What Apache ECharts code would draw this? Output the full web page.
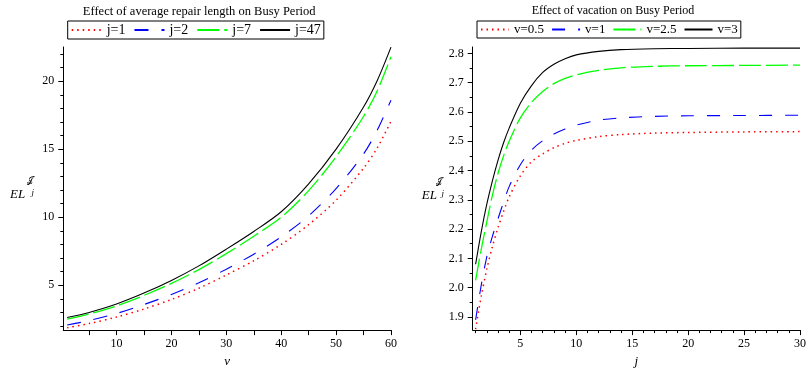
<!DOCTYPE html>
<html><head><meta charset="utf-8">
<script src="https://cdn.jsdelivr.net/npm/echarts@6/dist/echarts.min.js"></script>
<style>html,body{margin:0;padding:0;background:#fff}#c{width:809px;height:373px}</style>
</head><body><div id="c"></div>
<script>
// ---- Left chart: Effect of average repair length on Busy Period ----
const vValues = [1, 5, 10, 15, 20, 25, 30, 35, 40, 45, 50, 55, 57.5, 60];
const busyJ1  = [1.88, 2.18, 2.66, 3.25, 3.95, 4.78, 5.75, 6.80, 8.00, 9.45, 11.25, 13.6, 15.1, 17.05];
const busyJ2  = [2.07, 2.40, 2.92, 3.58, 4.32, 5.18, 6.18, 7.28, 8.55, 10.1, 12.1, 14.65, 16.4, 18.6];
const busyJ7  = [2.50, 2.88, 3.48, 4.25, 5.13, 6.15, 7.32, 8.60, 10.0, 11.95, 14.45, 17.4, 19.3, 21.8];
const busyJ47 = [2.62, 3.00, 3.62, 4.42, 5.35, 6.42, 7.65, 8.95, 10.4, 12.45, 15.0, 18.1, 20.05, 22.5];
const leftXTicks  = [5, 10, 15, 20, 25, 30, 35, 40, 45, 50, 55, 60];
const leftXLabels = [10, 20, 30, 40, 50, 60];
const leftYMajor  = [5, 10, 15, 20];
const leftYMinor  = [2, 3, 4, 5, 6, 7, 8, 9, 10, 11, 12, 13, 14, 15, 16, 17, 18, 19, 20, 21, 22];

// ---- Right chart: Effect of vacation on Busy Period ----
const jValues = [1, 1.5, 2, 2.5, 3, 3.5, 4, 5, 6, 7, 8, 9, 10, 12, 14, 17, 20, 25, 30];
const vacV05 = [1.858, 1.97, 2.063, 2.14, 2.205, 2.26, 2.31, 2.382, 2.43, 2.457, 2.478, 2.493, 2.503, 2.516, 2.523, 2.528, 2.53, 2.532, 2.533];
const vacV1  = [1.89, 2.008, 2.105, 2.175, 2.235, 2.292, 2.345, 2.42, 2.47, 2.502, 2.525, 2.542, 2.555, 2.572, 2.58, 2.585, 2.587, 2.588, 2.589];
const vacV25 = [2.025, 2.13, 2.225, 2.315, 2.39, 2.45, 2.5, 2.58, 2.633, 2.67, 2.697, 2.715, 2.727, 2.742, 2.751, 2.756, 2.758, 2.759, 2.76];
const vacV3  = [2.08, 2.19, 2.285, 2.365, 2.435, 2.495, 2.545, 2.63, 2.69, 2.735, 2.763, 2.782, 2.795, 2.807, 2.813, 2.816, 2.817, 2.818, 2.818];
const rightXMajor = [5, 10, 15, 20, 25, 30];
const rightXMinor = [1,2,3,4,5,6,7,8,9,10,11,12,13,14,15,16,17,18,19,20,21,22,23,24,25,26,27,28,29,30];
const rightYMajor = [1.9, 2.0, 2.1, 2.2, 2.3, 2.4, 2.5, 2.6, 2.7, 2.8];
const rightYMinor = [1.9, 1.95, 2.0, 2.05, 2.1, 2.15, 2.2, 2.25, 2.3, 2.35, 2.4, 2.45, 2.5, 2.55, 2.6, 2.65, 2.7, 2.75, 2.8];

const SERIF = 'Liberation Serif, Times New Roman, serif';
const zip = (xs, ys) => xs.map((x, i) => [x, ys[i]]);

function valAxis(opt) {
  return Object.assign({
    type: 'value',
    axisLine: { show: true, onZero: false, lineStyle: { color: '#000', width: 1 } },
    splitLine: { show: false },
    axisLabel: { color: '#000', fontFamily: SERIF, fontSize: 12 },
    axisTick: { show: true, inside: false, lineStyle: { color: '#000', width: 1 } }
  }, opt);
}

function lineSeries(name, xs, ys, color, type, xi, yi, width) {
  return {
    name, type: 'line', xAxisIndex: xi, yAxisIndex: yi,
    data: zip(xs, ys), symbol: 'none', showSymbol: false,
    smooth: 0.3,
    lineStyle: { color, type, width: width || 1.1 },
    itemStyle: { color },
    animation: false, silent: true
  };
}

const chart = echarts.init(document.getElementById('c'), null, { renderer: 'canvas' });

const LEFT = { left: 63.3, top: 47, width: 327.7, height: 290 };
const RIGHT = { left: 472.7, top: 47, width: 331.3, height: 290 };

const legendCommon = {
  orient: 'horizontal', top: 21, borderColor: '#000', borderWidth: 1, padding: [2, 3, 2, 3],
  itemHeight: 14, itemStyle: { opacity: 0 }, selectedMode: false
};

const option = {
  animation: false,
  backgroundColor: '#fff',
  title: [
    { text: 'Effect of average repair length on Busy Period', left: 199.2, top: 5, padding: 0,
      textAlign: 'center', textStyle: { fontFamily: SERIF, fontSize: 12.5, fontWeight: 'normal', color: '#000' } },
    { text: 'Effect of vacation on Busy Period', left: 613, top: 5, padding: 0,
      textAlign: 'center', textStyle: { fontFamily: SERIF, fontSize: 12, fontWeight: 'normal', color: '#000' } }
  ],
  legend: [
    Object.assign({ data: ['j=1', 'j=2', 'j=7', 'j=47'], left: 67.7, itemWidth: 30, itemGap: 8,
      textStyle: { fontFamily: SERIF, fontSize: 14, color: '#000' } }, legendCommon),
    Object.assign({ data: ['v=0.5', 'v=1', 'v=2.5', 'v=3'], left: 477, itemWidth: 28, itemGap: 7,
      textStyle: { fontFamily: SERIF, fontSize: 13, color: '#000' } }, legendCommon)
  ],
  grid: [
    Object.assign({ containLabel: false }, LEFT),
    Object.assign({ containLabel: false }, RIGHT)
  ],
  xAxis: [
    valAxis({ gridIndex: 0, position: 'bottom', min: 0.3, max: 60,
      axisTick: { show: true, length: 5, customValues: leftXTicks, lineStyle: { color: '#000' } },
      axisLabel: { color: '#000', fontFamily: SERIF, fontSize: 12, margin: 8, customValues: leftXLabels },
      name: 'ν', nameLocation: 'middle', nameGap: 20,
      nameTextStyle: { fontFamily: SERIF, fontStyle: 'italic', fontSize: 13, color: '#000' } }),
    valAxis({ gridIndex: 1, position: 'bottom', min: 0.74, max: 30,
      axisTick: { show: true, length: 5, customValues: rightXMajor, lineStyle: { color: '#000' } },
      axisLabel: { color: '#000', fontFamily: SERIF, fontSize: 12, margin: 8, customValues: rightXMajor },
      name: 'j', nameLocation: 'middle', nameGap: 20,
      nameTextStyle: { fontFamily: SERIF, fontStyle: 'italic', fontSize: 13, color: '#000' } }),
    valAxis({ gridIndex: 1, position: 'bottom', min: 0.74, max: 30,
      axisLine: { show: false, onZero: false },
      axisTick: { show: true, length: 3, customValues: rightXMinor, lineStyle: { color: '#000' } },
      axisLabel: { show: false } })
  ],
  yAxis: [
    valAxis({ gridIndex: 0, position: 'left', min: 1.70, max: 22.51,
      axisTick: { show: true, length: 5, customValues: leftYMajor, lineStyle: { color: '#000' } },
      axisLabel: { color: '#000', fontFamily: SERIF, fontSize: 12, margin: 9, customValues: leftYMajor } }),
    valAxis({ gridIndex: 0, position: 'left', min: 1.70, max: 22.51,
      axisLine: { show: false, onZero: false },
      axisTick: { show: true, length: 3, customValues: leftYMinor, lineStyle: { color: '#000' } },
      axisLabel: { show: false } }),
    valAxis({ gridIndex: 1, position: 'left', min: 1.855, max: 2.822,
      axisTick: { show: true, length: 5, customValues: rightYMajor, lineStyle: { color: '#000' } },
      axisLabel: { color: '#000', fontFamily: SERIF, fontSize: 12, margin: 9, customValues: rightYMajor,
        formatter: v => v.toFixed(1) } }),
    valAxis({ gridIndex: 1, position: 'left', min: 1.855, max: 2.822,
      axisLine: { show: false, onZero: false },
      axisTick: { show: true, length: 3, customValues: rightYMinor, lineStyle: { color: '#000' } },
      axisLabel: { show: false } })
  ],
  series: [
    lineSeries('j=1', vValues, busyJ1, '#ff0000', [1.5, 4], 0, 0, 1.5),
    lineSeries('j=2', vValues, busyJ2, '#0000ff', [14, 13], 0, 0),
    lineSeries('j=7', vValues, busyJ7, '#00ff00', [22, 5], 0, 0, 1.3),
    lineSeries('j=47', vValues, busyJ47, '#000000', 'solid', 0, 0),
    lineSeries('v=0.5', jValues, vacV05, '#ff0000', [1.5, 4], 1, 2, 1.5),
    lineSeries('v=1', jValues, vacV1, '#0000ff', [13, 13], 1, 2),
    lineSeries('v=2.5', jValues, vacV25, '#00ff00', [22, 5], 1, 2, 1.3),
    lineSeries('v=3', jValues, vacV3, '#000000', 'solid', 1, 2)
  ],
  graphic: [
    { type: 'text', left: 10, top: 188, style: { text: 'EL', font: 'italic 13px ' + SERIF, fill: '#000' } },
    { type: 'text', left: 26.5, top: 176, style: { text: '𝒥', font: '9px ' + SERIF, fill: '#000' } },
    { type: 'text', left: 31.5, top: 188, style: { text: 'j', font: 'italic 9px ' + SERIF, fill: '#000' } },
    { type: 'text', left: 421.7, top: 189, style: { text: 'EL', font: 'italic 13px ' + SERIF, fill: '#000' } },
    { type: 'text', left: 435.5, top: 177, style: { text: '𝒥', font: '9px ' + SERIF, fill: '#000' } },
    { type: 'text', left: 441.5, top: 189, style: { text: 'j', font: 'italic 9px ' + SERIF, fill: '#000' } }
  ]
};
chart.setOption(option);
</script>
</body></html>
